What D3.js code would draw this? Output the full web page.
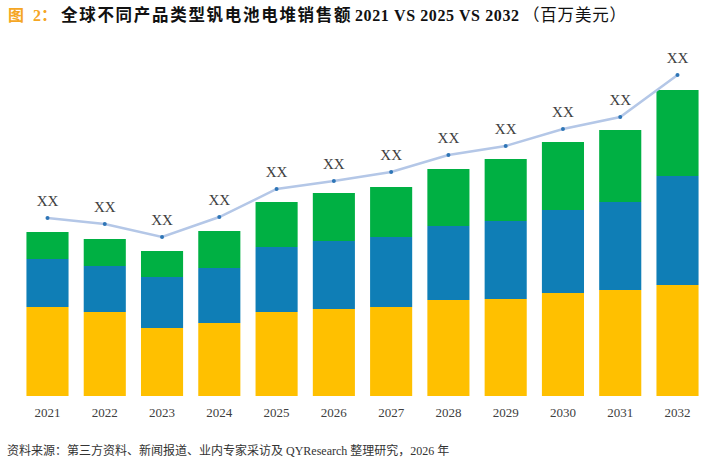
<!DOCTYPE html>
<html>
<head>
<meta charset="utf-8">
<script src="https://cdn.jsdelivr.net/npm/d3@7"></script>
<style>
  body { margin: 0; background: #fff; }
  text { font-family: "Liberation Serif", "Noto Sans CJK SC", serif; }
</style>
</head>
<body>
<div id="chart"></div>
<script>
// chart data (arbitrary units)
let years = ["2021", "2022", "2023", "2024", "2025", "2026", "2027", "2028", "2029", "2030", "2031", "2032"];
let yellowVals = [89, 84, 68, 73, 84, 87, 89, 96, 97, 103, 106, 111];
let blueVals   = [48, 46, 51, 55, 65, 68, 70, 74, 78, 83, 88, 109];
let greenVals  = [27, 27, 26, 37, 45, 48, 50, 57, 62, 68, 72, 86];
let lineVals   = [178, 172, 159, 179, 207, 215, 224, 241, 250, 267, 279, 321];
let lineLabels = ["XX", "XX", "XX", "XX", "XX", "XX", "XX", "XX", "XX", "XX", "XX", "XX"];

let width = 717;
let height = 461;
let baseY = 396;

let svg = d3.select("#chart")
  .append("svg")
  .attr("width", width)
  .attr("height", height);

// Title, pieces placed one by one
let title = svg.append("text")
  .attr("y", 21)
  .style("font-size", "16px");
title.append("tspan").attr("x", 8).attr("fill", "#F5A623").attr("font-weight", "bold").text("图");
title.append("tspan").attr("x", 33).attr("fill", "#F5A623").attr("font-weight", "bold").text("2：");
title.append("tspan").attr("x", 61).attr("fill", "#111").attr("font-weight", "bold")
  .style("font-size", "16.5px").style("letter-spacing", "1.7px")
  .text("全球不同产品类型钒电池电堆销售额");
title.append("tspan").attr("x", 355).attr("fill", "#111").attr("font-weight", "bold")
  .style("letter-spacing", "0.6px")
  .text("2021 VS 2025 VS 2032");
title.append("tspan").attr("x", 523).attr("fill", "#111")
  .style("font-size", "16.5px").style("letter-spacing", "0.8px")
  .text("（百万美元）");

// scales
let xScale = d3.scaleBand()
  .domain(years)
  .range([19, 706])
  .paddingInner(0.265)
  .paddingOuter(0.13);

let yScale = d3.scaleLinear()
  .domain([0, 350])
  .range([baseY, baseY - 350]);

// stacked bars
let rows = years.map((y, i) => ({ year: y, yellow: yellowVals[i], blue: blueVals[i], green: greenVals[i] }));
let stack = d3.stack().keys(["yellow", "blue", "green"]);
let series = stack(rows);
let colors = { yellow: "#FFC000", blue: "#0F7EB6", green: "#00B043" };

svg.append("g")
  .selectAll("g")
  .data(series)
  .enter()
  .append("g")
  .attr("fill", d => colors[d.key])
  .selectAll("rect")
  .data(d => d)
  .enter()
  .append("rect")
  .attr("x", d => xScale(d.data.year))
  .attr("y", d => yScale(d[1]))
  .attr("width", xScale.bandwidth())
  .attr("height", d => yScale(d[0]) - yScale(d[1]));

// x axis labels (no axis line)
let xAxis = d3.axisBottom(xScale).tickSize(0).tickPadding(0);
let xAxisG = svg.append("g")
  .attr("transform", "translate(0," + baseY + ")")
  .call(xAxis);
xAxisG.select(".domain").remove();
xAxisG.selectAll("text")
  .attr("dy", null)
  .attr("y", 21)
  .attr("fill", "#404040")
  .style("font-family", "Liberation Serif, serif")
  .style("font-size", "13px");

// line
let cx = d => xScale(d) + xScale.bandwidth() / 2;
let line = d3.line()
  .x((d, i) => cx(years[i]))
  .y(d => yScale(d));

svg.append("path")
  .datum(lineVals)
  .attr("fill", "none")
  .attr("stroke", "#B4C7E7")
  .attr("stroke-width", 2.5)
  .attr("d", line);

svg.append("g")
  .selectAll("circle")
  .data(lineVals)
  .enter()
  .append("circle")
  .attr("cx", (d, i) => cx(years[i]))
  .attr("cy", d => yScale(d))
  .attr("r", 2)
  .attr("fill", "#2E75B6");

svg.append("g")
  .selectAll("text")
  .data(lineVals)
  .enter()
  .append("text")
  .attr("x", (d, i) => cx(years[i]))
  .attr("y", d => yScale(d) - 12)
  .attr("text-anchor", "middle")
  .attr("fill", "#404040")
  .style("font-size", "15px")
  .text((d, i) => lineLabels[i]);

// source note
svg.append("text")
  .attr("x", 7)
  .attr("y", 455)
  .attr("fill", "#333")
  .style("font-size", "12px")
  .text("资料来源：第三方资料、新闻报道、业内专家采访及 QYResearch 整理研究，2026 年");
</script>
</body>
</html>
